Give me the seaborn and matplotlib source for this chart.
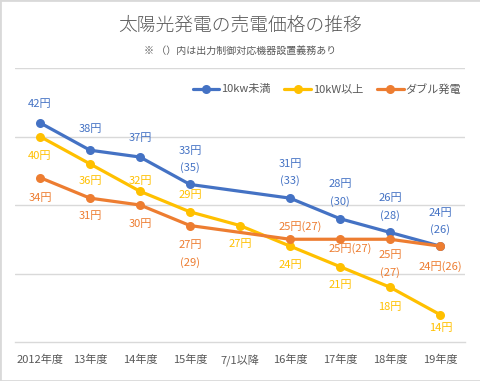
import numpy as np
import pandas as pd
import matplotlib
matplotlib.use('Agg')
import matplotlib.pyplot as plt
import seaborn as sns
from matplotlib.lines import Line2D
from matplotlib.patches import Rectangle

# データ
categories = ['2012年度', '13年度', '14年度', '15年度', '7/1以降', '16年度', '17年度', '18年度', '19年度']
series_names = ['10kw未満', '10kW以上', 'ダブル発電']
under10 = [42, 38, 37, 33, np.nan, 31, 28, 26, 24]
over10 = [40, 36, 32, 29, 27, 24, 21, 18, 14]
double = [34, 31, 30, 27, np.nan, 25, 25, 25, 24]
# （）内の価格
under10_note = [None, None, None, 35, None, 33, 30, 28, 26]
over10_note = [None] * 9
double_note = [None, None, None, 29, None, 27, 27, 27, 26]

colors = ['#4472C4', '#FFC000', '#ED7D31']
gray = '#595959'
grid = '#D9D9D9'

# ラベル位置 (dx, dy ピクセル, 'v'=2行 / 'h'=1行)
label_pos = [
    [(0, 19, 'v'), (0, 21, 'v'), (0, 19, 'v'), (0, 25, 'v'), None,
     (0, 25.5, 'v'), (0, 25.5, 'v'), (0, 25.5, 'v'), (0, 24.5, 'v')],
    [(0, -20, 'v'), (0, -17, 'v'), (0, 10, 'v'), (0, 17, 'v'), (0, -18, 'v'),
     (0, -19, 'v'), (0, -18, 'v'), (0, -20, 'v'), (1, -13, 'v')],
    [(0, -20, 'v'), (0, -18, 'v'), (0, -19, 'v'), (0, -28.5, 'v'), None,
     (10, 13, 'h'), (10, -9, 'h'), (0, -24.5, 'v'), (0, -20, 'h')],
]

rows = []
for name, vals in zip(series_names, [under10, over10, double]):
    for i, v in enumerate(vals):
        rows.append({'x': i, 'price': v, 'series': name})
df = pd.DataFrame(rows).dropna()

sns.set_theme(style='white')
plt.rcParams['font.family'] = ['Noto Sans CJK JP', 'DejaVu Sans']

fig = plt.figure(figsize=(4.81, 3.81), dpi=100)
ax = fig.add_axes([15 / 481, 1 - 342 / 381, 450 / 481, 274 / 381])

sns.lineplot(data=df, x='x', y='price', hue='series', hue_order=series_names,
             palette=colors, marker='o', markersize=6.5, markeredgewidth=0,
             linewidth=2.3, legend=False, ax=ax, zorder=3)

ax.set_xlim(-0.5, 8.5)
ax.set_ylim(10, 50)
ax.set_yticks([20, 30, 40, 50])
ax.yaxis.grid(True, color=grid, linewidth=1)
ax.tick_params(axis='y', left=False, labelleft=False)
ax.set_xticks(range(len(categories)))
ax.set_xticklabels(categories, fontsize=8, color=gray)
ax.set_xticks(np.arange(-0.5, 9, 1), minor=True)
ax.tick_params(axis='x', which='major', length=0, pad=9)
ax.tick_params(axis='x', which='minor', length=4, color=grid, width=1)
ax.set_xlabel('')
ax.set_ylabel('')
for s in ['top', 'left', 'right']:
    ax.spines[s].set_visible(False)
ax.spines['bottom'].set_color(grid)
ax.spines['bottom'].set_linewidth(1)

# データラベル
for vals, notes, poss, c in zip([under10, over10, double],
                                [under10_note, over10_note, double_note],
                                label_pos, colors):
    for i, (v, n, p) in enumerate(zip(vals, notes, poss)):
        if p is None or np.isnan(v):
            continue
        txt = f'{int(v)}円'
        if n is not None:
            txt += ('\n' if p[2] == 'v' else '') + f'({n})'
        ax.annotate(txt, (i, v), xytext=(p[0], p[1]), textcoords='offset pixels',
                    ha='center', va='center', fontsize=8, color=c,
                    linespacing=1.75, zorder=4)

# タイトル
fig.text(0.5, 1 - 26 / 381, '太陽光発電の売電価格の推移', ha='center', va='center',
         fontsize=13.5, color=gray, fontweight='light')
fig.text(0.5, 1 - 52 / 381, '※ （）内は出力制御対応機器設置義務あり', ha='center',
         va='center', fontsize=7.2, color=gray)

# 凡例
handles = [Line2D([0], [0], color=c, lw=2.3, marker='o', markersize=6.5,
                  markeredgewidth=0) for c in colors]
fig.legend(handles, series_names, loc='center', bbox_to_anchor=(327 / 481, 1 - 89 / 381),
           ncol=3, frameon=False, fontsize=8, handlelength=2.4, handletextpad=0.2,
           columnspacing=1.2, labelcolor=gray)

fig.patches.append(Rectangle((0, 0), 1, 1, transform=fig.transFigure, fill=False,
                             edgecolor=grid, linewidth=2))

fig.savefig('out.png', dpi=100)
